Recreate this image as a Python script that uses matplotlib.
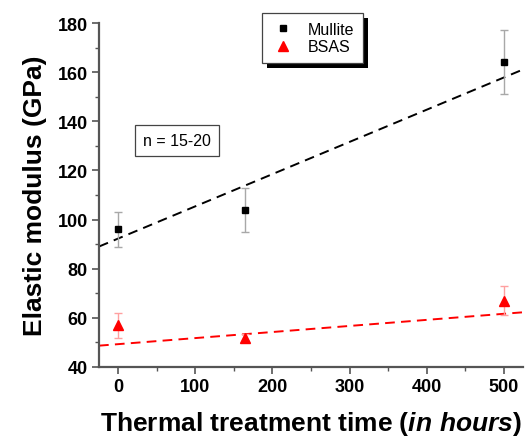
import matplotlib
matplotlib.use("Agg")
import matplotlib.pyplot as plt
import numpy as np
from matplotlib.patches import Rectangle
from matplotlib.ticker import MultipleLocator

plt.rcParams['font.family'] = ['Liberation Sans', 'DejaVu Sans']
plt.rcParams['mathtext.fontset'] = 'custom'
plt.rcParams['mathtext.it'] = 'Liberation Sans:italic:bold'
plt.rcParams['mathtext.rm'] = 'Liberation Sans:bold'
plt.rcParams['mathtext.bf'] = 'Liberation Sans:bold'

# Data
time_h = [0, 165, 500]
mullite = [96, 104, 164]
mullite_err = [7, 9, 13]
bsas = [57, 52, 67]
bsas_err = [5, 1.5, 6]
# Linear fits (slope, intercept)
mullite_fit = [0.131, 92.3]
bsas_fit = [0.0247, 49.3]
fit_range = [-25, 525]

fig = plt.figure(figsize=(5.32, 4.39), dpi=100)
ax = fig.add_axes([99/532, 1-368/439, (523-99)/532, (368-24)/439])

xf = np.array(fit_range)
ax.plot(xf, mullite_fit[0]*xf + mullite_fit[1], color='black', ls=(0, (5, 3.2)), lw=1.4, zorder=2)
ax.plot(xf, bsas_fit[0]*xf + bsas_fit[1], color='red', ls=(0, (5, 3.2)), lw=1.4, zorder=2)

ax.errorbar(time_h, mullite, yerr=mullite_err, fmt='s', color='black', ms=5,
            ecolor='#a8a8a8', elinewidth=1, capsize=2.6, capthick=1, zorder=3, label='Mullite')
ax.errorbar(time_h, bsas, yerr=bsas_err, fmt='^', color='red', ms=7,
            ecolor='#ffa0a0', elinewidth=1, capsize=2.6, capthick=1, zorder=3, label='BSAS')

ax.set_xlim(-25, 525)
ax.set_ylim(40, 180)
ax.xaxis.set_major_locator(MultipleLocator(100))
ax.xaxis.set_minor_locator(MultipleLocator(50))
ax.yaxis.set_major_locator(MultipleLocator(20))
ax.yaxis.set_minor_locator(MultipleLocator(10))

for s in ['top', 'right']:
    ax.spines[s].set_visible(False)
for s in ['left', 'bottom']:
    ax.spines[s].set_color('#555555')
    ax.spines[s].set_linewidth(1.6)
ax.tick_params(which='major', direction='out', length=5, width=1.2, color='#555555',
               labelsize=13, pad=3)
ax.tick_params(which='minor', direction='out', length=3, width=1.0, color='#555555')
for lab in ax.get_xticklabels() + ax.get_yticklabels():
    lab.set_fontweight('bold')

ax.set_xlabel('Thermal treatment time ($\\mathit{in\\ hours}$)', fontsize=19, fontweight='bold', labelpad=10)
ax.set_ylabel('Elastic modulus (GPa)', fontsize=19, fontweight='bold', labelpad=8)

ax.text(75.8, 132, 'n = 15-20', fontsize=11.5, ha='center', va='center',
        bbox=dict(boxstyle='square,pad=0.5', fc='white', ec='#444444', lw=0.9))

handles, labels = ax.get_legend_handles_labels()
handles = [h[0] for h in handles]
leg = fig.legend(handles, labels, loc='upper left', bbox_to_anchor=(262/532, 1-14/439),
                 borderaxespad=0, fancybox=False, fontsize=11.5, frameon=True,
                 edgecolor='#444444', facecolor='white', framealpha=1,
                 handlelength=1.5, handletextpad=0.8,
                 borderpad=0.55, labelspacing=0.15, markerscale=1.0)
leg.get_frame().set_linewidth(0.9)
leg.set_zorder(10)

fig.canvas.draw()
bb = leg.get_window_extent().transformed(fig.transFigure.inverted())
off_x, off_y = 5/532, 5/439
shadow = Rectangle((bb.x0 + off_x, bb.y0 - off_y), bb.width, bb.height,
                   transform=fig.transFigure, fc='black', ec='none', zorder=9)
fig.patches.append(shadow)

fig.savefig('out.png', dpi=100)
